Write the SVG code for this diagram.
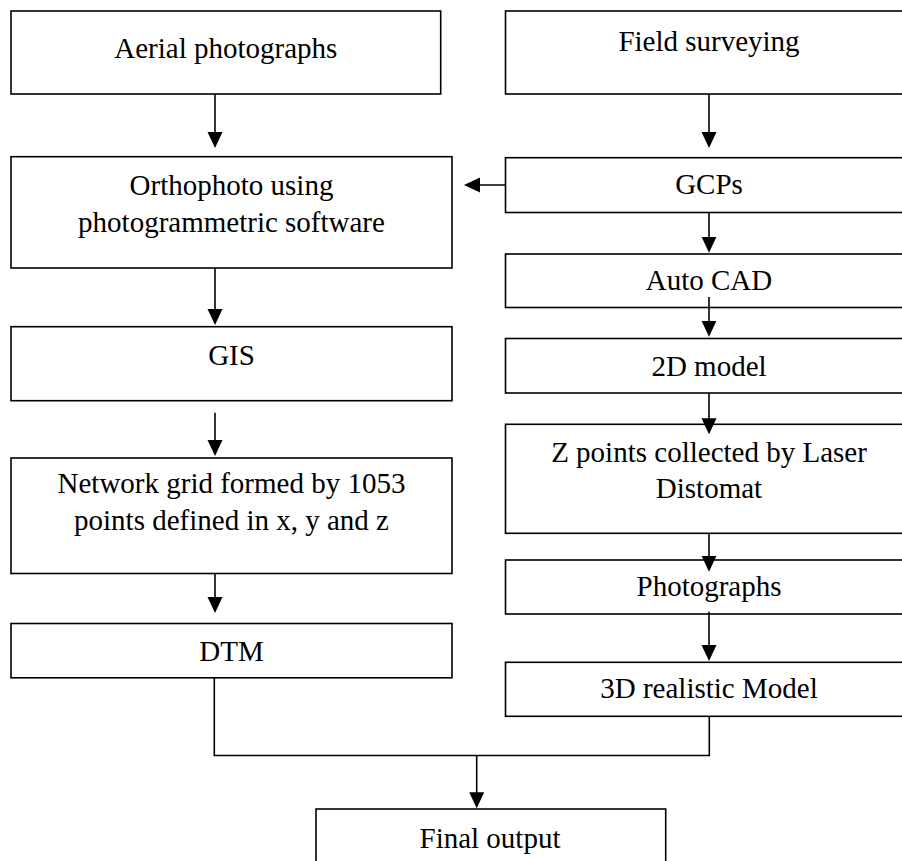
<svg xmlns="http://www.w3.org/2000/svg" width="902" height="861" viewBox="0 0 902 861">
<style>
.box{fill:#fff;stroke:#000;stroke-width:1.6}
.lbl{font-family:"Liberation Serif","Times New Roman",serif;font-size:29px;fill:#000;text-anchor:middle}
.con{fill:none;stroke:#000;stroke-width:1.6}
.arr{marker-end:url(#ah)}
</style>
<defs>
<marker id="ah" viewBox="0 0 16 16" refX="13" refY="8" markerWidth="16" markerHeight="16" markerUnits="userSpaceOnUse" orient="auto">
<path d="M0,0.5 L16,8 L0,15.5 Z" fill="#000"/>
</marker>
</defs>
<rect x="0" y="0" width="902" height="861" fill="#fff"/>
<g id="n-aerial"><rect class="box" x="11" y="11" width="429.7" height="83"/><text class="lbl" x="225.8" y="58">Aerial photographs</text></g>
<g id="n-field"><rect class="box" x="505.5" y="11" width="407" height="83"/><text class="lbl" x="709" y="51">Field surveying</text></g>
<g id="n-ortho"><rect class="box" x="11" y="156.7" width="441" height="111.3"/><text class="lbl" x="231.5" y="195">Orthophoto using</text><text class="lbl" x="231.5" y="232">photogrammetric software</text></g>
<g id="n-gcps"><rect class="box" x="505.5" y="157.7" width="407" height="54.8"/><text class="lbl" x="709" y="194.3">GCPs</text></g>
<g id="n-autocad"><rect class="box" x="505.5" y="254" width="407" height="53.5"/><text class="lbl" x="709" y="290">Auto CAD</text></g>
<g id="n-2d"><rect class="box" x="505.5" y="338.5" width="407" height="54.5"/><text class="lbl" x="709" y="375.7">2D model</text></g>
<g id="n-gis"><rect class="box" x="11" y="326.7" width="441" height="74"/><text class="lbl" x="231.5" y="365">GIS</text></g>
<g id="n-z"><rect class="box" x="505.5" y="424.3" width="407" height="109"/><text class="lbl" x="709" y="461.7">Z points collected by Laser</text><text class="lbl" x="709" y="498.3">Distomat</text></g>
<g id="n-network"><rect class="box" x="11" y="458" width="441" height="115.5"/><text class="lbl" x="231.5" y="493">Network grid formed by 1053</text><text class="lbl" x="231.5" y="530">points defined in x, y and z</text></g>
<g id="n-photos"><rect class="box" x="505.5" y="560" width="407" height="54"/><text class="lbl" x="709" y="596">Photographs</text></g>
<g id="n-dtm"><rect class="box" x="11" y="623.5" width="441" height="54.3"/><text class="lbl" x="231.5" y="660.7">DTM</text></g>
<g id="n-3d"><rect class="box" x="505.5" y="662.3" width="407" height="54"/><text class="lbl" x="709" y="698.3">3D realistic Model</text></g>
<g id="n-final"><rect class="box" x="316" y="809" width="349.7" height="70"/><text class="lbl" x="490" y="848">Final output</text></g>
<g id="connectors">
<line class="con arr" x1="215" y1="94" x2="215" y2="145"/>
<line class="con arr" x1="709" y1="94" x2="709" y2="145"/>
<line class="con arr" x1="505.5" y1="185" x2="467" y2="185"/>
<line class="con arr" x1="709" y1="212.5" x2="709" y2="249.7"/>
<line class="con arr" x1="709" y1="297" x2="709" y2="333.7"/>
<line class="con arr" x1="709" y1="393" x2="709" y2="431.3"/>
<line class="con arr" x1="215" y1="268" x2="215" y2="322"/>
<line class="con arr" x1="215" y1="412.7" x2="215" y2="453"/>
<line class="con arr" x1="215" y1="573.5" x2="215" y2="610"/>
<line class="con arr" x1="709" y1="533.3" x2="709" y2="568.7"/>
<line class="con arr" x1="709" y1="611.7" x2="709" y2="658"/>
<polyline class="con" points="214.3,677.8 214.3,755.5 709.3,755.5 709.3,716.3"/>
<line class="con arr" x1="476.7" y1="755.5" x2="476.7" y2="805.3"/>
</g>
</svg>
